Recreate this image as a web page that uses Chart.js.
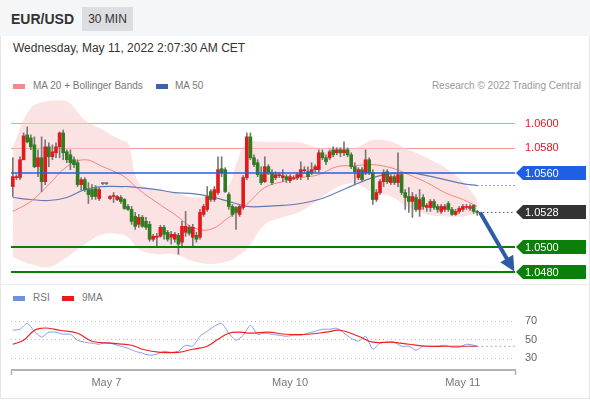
<!DOCTYPE html>
<html><head><meta charset="utf-8">
<script src="https://cdn.jsdelivr.net/npm/chart.js@4/dist/chart.umd.min.js"></script>
<style>
html,body{margin:0;padding:0;background:#fff;}
body{width:590px;height:400px;position:relative;overflow:hidden;font-family:"Liberation Sans",Arial,Helvetica,sans-serif;}
#frame{position:absolute;left:0;top:0;width:588px;height:397px;border:1px solid #e6e6e6;}
#hdr{position:absolute;left:0;top:0;width:590px;height:36px;background:#f5f6f7;}
#sym{position:absolute;left:11px;top:10px;font-size:14px;line-height:18px;font-weight:bold;color:#333;}
#tf{position:absolute;left:82px;top:7px;width:51px;height:24px;background:#dcdee2;font-size:12px;color:#333;line-height:24px;text-align:center;}
#date{position:absolute;left:13px;top:40px;font-size:12px;line-height:16px;color:#333;}
.leg{position:absolute;font-size:10px;line-height:12px;color:#777;white-space:nowrap;}
.sw{position:absolute;width:12px;height:5px;}
#sep{position:absolute;left:0;top:284px;width:590px;height:1px;background:#ececec;}
canvas{position:absolute;left:0;}
</style></head>
<body>
<div id="frame"></div>
<div id="hdr"></div>
<div id="sym">EUR/USD</div>
<div id="tf">30 MIN</div>
<div id="date">Wednesday, May 11, 2022 2:07:30 AM CET</div>
<div class="sw" style="left:13px;top:84px;background:#f58a8a"></div>
<div class="leg" style="left:33px;top:80px">MA 20 + Bollinger Bands</div>
<div class="sw" style="left:156px;top:84px;background:#3f62a8"></div>
<div class="leg" style="left:175px;top:80px">MA 50</div>
<div class="leg" style="right:9px;top:80px;color:#999">Research © 2022 Trading Central</div>
<div id="sep"></div>
<div class="sw" style="left:13px;top:296px;background:#6d8fe6"></div>
<div class="leg" style="left:33px;top:292px">RSI</div>
<div class="sw" style="left:62px;top:296px;background:#f01818"></div>
<div class="leg" style="left:82px;top:292px">9MA</div>
<canvas id="price" width="590" height="180" style="top:100px"></canvas>
<canvas id="rsi" width="590" height="95" style="top:305px"></canvas>
<script>
// ---------- DATA ----------
const open = [1.05488,1.05560,1.05560,1.05704,1.05904,1.05880,1.05824,1.05648,1.05720,1.05528,
1.05808,1.05728,1.05760,1.05808,1.05920,1.05768,1.05744,1.05704,1.05680,1.05504,
1.05544,1.05464,1.05464,1.05472,1.05392,1.05512,1.05512,1.05392,1.05408,1.05384,
1.05400,1.05384,1.05328,1.05304,1.05248,1.05184,1.05240,1.05208,1.05184,1.05064,
1.05080,1.05088,1.05160,1.05120,1.05080,1.05064,1.05096,1.05040,1.05120,1.05160,
1.05080,1.05096,1.05080,1.05264,1.05304,1.05448,1.05384,1.05440,1.05632,1.05624,
1.05424,1.05328,1.05320,1.05264,1.05320,1.05560,1.05888,1.05720,1.05680,1.05584,
1.05528,1.05648,1.05600,1.05560,1.05576,1.05560,1.05568,1.05536,1.05552,1.05560,
1.05568,1.05616,1.05608,1.05600,1.05624,1.05624,1.05760,1.05720,1.05720,1.05784,
1.05760,1.05784,1.05760,1.05784,1.05744,1.05648,1.05560,1.05624,1.05600,1.05704,
1.05600,1.05384,1.05440,1.05528,1.05608,1.05520,1.05568,1.05520,1.05584,1.05440,
1.05408,1.05368,1.05400,1.05304,1.05400,1.05320,1.05320,1.05368,1.05328,1.05288,
1.05304,1.05352,1.05304,1.05264,1.05288,1.05304,1.05320,1.05312,1.05336,1.05288];
const high = [1.05720,1.05584,1.05728,1.05920,1.05968,1.05904,1.05888,1.05784,1.05888,1.05864,
1.05840,1.05824,1.05840,1.05928,1.05944,1.05784,1.05784,1.05728,1.05704,1.05560,
1.05560,1.05520,1.05504,1.05496,1.05480,1.05520,1.05520,1.05416,1.05440,1.05416,
1.05416,1.05392,1.05344,1.05328,1.05280,1.05264,1.05256,1.05240,1.05208,1.05104,
1.05112,1.05176,1.05176,1.05136,1.05128,1.05120,1.05112,1.05208,1.05288,1.05176,
1.05184,1.05120,1.05304,1.05344,1.05488,1.05464,1.05488,1.05728,1.05728,1.05640,
1.05440,1.05344,1.05328,1.05344,1.05576,1.05920,1.05920,1.05744,1.05704,1.05648,
1.05728,1.05664,1.05624,1.05608,1.05600,1.05624,1.05584,1.05584,1.05576,1.05600,
1.05688,1.05648,1.05648,1.05680,1.05664,1.05784,1.05784,1.05744,1.05784,1.05808,
1.05800,1.05800,1.05848,1.05800,1.05760,1.05680,1.05640,1.05640,1.05784,1.05720,
1.05624,1.05464,1.05544,1.05624,1.05624,1.05584,1.05584,1.05760,1.05600,1.05464,
1.05480,1.05440,1.05424,1.05464,1.05424,1.05352,1.05384,1.05384,1.05344,1.05344,
1.05344,1.05368,1.05320,1.05304,1.05328,1.05344,1.05344,1.05344,1.05344,1.05296];
const low = [1.05408,1.05544,1.05544,1.05704,1.05840,1.05784,1.05640,1.05568,1.05448,1.05504,
1.05648,1.05704,1.05720,1.05720,1.05704,1.05680,1.05624,1.05640,1.05488,1.05464,
1.05448,1.05352,1.05384,1.05384,1.05376,1.05504,1.05504,1.05384,1.05360,1.05376,
1.05352,1.05304,1.05296,1.05184,1.05144,1.05160,1.05160,1.05144,1.05048,1.05048,
1.05008,1.05080,1.05064,1.05048,1.05024,1.05040,1.04944,1.05008,1.05088,1.05096,
1.05008,1.05040,1.05064,1.05248,1.05288,1.05368,1.05368,1.05424,1.05568,1.05440,
1.05304,1.05248,1.05144,1.05248,1.05304,1.05544,1.05704,1.05648,1.05568,1.05504,
1.05520,1.05584,1.05504,1.05544,1.05560,1.05528,1.05520,1.05520,1.05544,1.05544,
1.05544,1.05600,1.05544,1.05584,1.05608,1.05608,1.05704,1.05664,1.05704,1.05728,
1.05744,1.05728,1.05736,1.05728,1.05632,1.05504,1.05544,1.05528,1.05584,1.05584,
1.05344,1.05368,1.05424,1.05488,1.05512,1.05504,1.05504,1.05488,1.05424,1.05304,
1.05280,1.05240,1.05288,1.05248,1.05304,1.05288,1.05288,1.05304,1.05280,1.05272,
1.05288,1.05288,1.05256,1.05256,1.05272,1.05288,1.05304,1.05296,1.05272,1.05256];
const close = [1.05568,1.05568,1.05704,1.05896,1.05848,1.05808,1.05648,1.05720,1.05528,1.05808,
1.05728,1.05768,1.05808,1.05920,1.05760,1.05704,1.05680,1.05664,1.05504,1.05544,
1.05464,1.05424,1.05408,1.05408,1.05464,1.05512,1.05512,1.05408,1.05416,1.05408,
1.05368,1.05312,1.05304,1.05208,1.05168,1.05240,1.05168,1.05160,1.05064,1.05088,
1.05084,1.05160,1.05104,1.05064,1.05104,1.05104,1.05024,1.05168,1.05168,1.05112,
1.05160,1.05064,1.05280,1.05328,1.05408,1.05384,1.05464,1.05624,1.05600,1.05448,
1.05328,1.05264,1.05280,1.05328,1.05560,1.05888,1.05720,1.05664,1.05584,1.05520,
1.05648,1.05600,1.05520,1.05584,1.05584,1.05576,1.05544,1.05568,1.05560,1.05584,
1.05624,1.05624,1.05568,1.05624,1.05648,1.05760,1.05720,1.05688,1.05768,1.05744,
1.05784,1.05760,1.05784,1.05744,1.05648,1.05608,1.05624,1.05544,1.05704,1.05600,
1.05384,1.05440,1.05528,1.05600,1.05528,1.05568,1.05520,1.05584,1.05440,1.05400,
1.05368,1.05408,1.05304,1.05384,1.05328,1.05336,1.05368,1.05320,1.05304,1.05328,
1.05328,1.05304,1.05264,1.05288,1.05312,1.05328,1.05326,1.05328,1.05288,1.05280];

// Bollinger band, MA20 and MA50, read at these candle positions
const bandIdx = [0,5,10,15,20,25,30,32,35,40,45,50,55,60,62,65,70,75,80,85,90,95,100,105,110,115,120,125,129];
const bbUpper = [1.05808,1.06120,1.06176,1.06176,1.06024,1.05944,1.05864,1.05840,1.05520,1.05464,1.05440,1.05400,1.05424,1.05504,1.05664,1.05840,1.05848,1.05848,1.05840,1.05800,1.05808,1.05800,1.05864,1.05848,1.05784,1.05720,1.05640,1.05528,1.05384];
const bbLower = [1.04920,1.04864,1.04840,1.04920,1.05024,1.05104,1.05104,1.05080,1.04984,1.04944,1.04944,1.04888,1.04864,1.04888,1.04920,1.04984,1.05184,1.05240,1.05288,1.05384,1.05480,1.05512,1.05440,1.05408,1.05320,1.05264,1.05248,1.05248,1.05272];
const ma20 = [1.05288,1.05368,1.05504,1.05648,1.05704,1.05648,1.05584,1.05544,1.05464,1.05360,1.05264,1.05160,1.05144,1.05240,1.05280,1.05344,1.05480,1.05528,1.05560,1.05584,1.05648,1.05656,1.05664,1.05640,1.05584,1.05520,1.05440,1.05384,1.05328];
const ma50 = [1.05400,1.05384,1.05376,1.05400,1.05464,1.05488,1.05488,1.05488,1.05480,1.05464,1.05440,1.05432,1.05408,1.05368,1.05352,1.05328,1.05328,1.05336,1.05352,1.05384,1.05440,1.05504,1.05560,1.05592,1.05600,1.05576,1.05544,1.05512,1.05496];

// price levels on the right
const resistances = [1.0600, 1.0580];
const pivot = 1.0560;
const lastPrice = 1.0528;
const supports = [1.0500, 1.0480];

// RSI panel
const rsiIdx = [0,2,4,6,8,10,12,14,16,18,20,22,24,26,28,30,32,34,36,38,40,42,44,46,48,50,52,54,56,58,60,62,64,66,68,70,72,74,76,78,80,82,84,86,88,90,92,94,96,98,100,102,104,106,108,110,112,114,116,118,120,122,124,126,128,129];
const rsi = [59.7,60.8,67.3,58.6,52.2,57.6,57.6,55.4,55.4,48.9,46.8,45.7,44.6,46.8,44.6,42.4,40.3,37.0,34.9,32.7,33.8,37.0,35.9,37.0,43.5,42.4,53.2,58.6,64.1,67.3,56.5,48.9,54.3,65.1,55.4,56.5,55.4,54.3,53.2,54.3,54.3,56.5,58.6,60.8,60.8,61.9,56.5,51.1,47.8,53.2,39.2,45.7,46.8,46.8,42.4,42.4,38.1,42.4,42.4,42.4,43.5,41.4,41.4,44.6,43.5,42.4];
const rsiMaIdx = [0,3,6,8,10,13,18,22,27,33,36,41,46,50,54,57,60,63,66,71,76,82,87,91,96,100,105,110,115,120,125,129];
const rsiMa = [44.6,48.9,59.7,61.9,61.9,59.7,56.5,47.8,45.7,43.5,39.2,35.9,35.9,39.2,42.4,50.0,56.5,57.6,56.5,57.6,55.4,55.4,57.6,59.7,53.2,46.8,46.8,44.6,42.4,42.4,42.4,42.4];
const rsiLevels = [70, 50, 30];

const xTickIdx = [26, 77, 125];
const xTickLabels = ['May 7', 'May 10', 'May 11'];

// ---------- CHARTS ----------
const X_MIN = -0.5, X_MAX = 139.5, X_EXT_END = 139.5;
const UP = '#e3191c', DOWN = '#2f7d1f', FLAT = '#777';
const FONT = '"Liberation Sans", Arial, sans-serif';
const idx = open.map((_, i) => i);
const last = idx.length - 1;
const pts = (xs, ys) => xs.map((x, k) => ({x, y: ys[k]}));

function tag(ctx, right, y, bg, text) {
  const x0 = right + 1;
  ctx.fillStyle = bg;
  ctx.beginPath();
  ctx.moveTo(x0, y);
  ctx.lineTo(x0 + 7, y - 7);
  ctx.lineTo(586, y - 7);
  ctx.lineTo(586, y + 7);
  ctx.lineTo(x0 + 7, y + 7);
  ctx.closePath();
  ctx.fill();
  ctx.fillStyle = '#fff';
  ctx.font = '11px ' + FONT;
  ctx.textBaseline = 'middle';
  ctx.textAlign = 'left';
  ctx.fillText(text, 525, y + 0.5);
}

const pricePlugin = {
  id: 'pricePlugin',
  beforeDatasetsDraw(chart) {
    const {ctx, chartArea: a, scales: {y}} = chart;
    ctx.save();
    ctx.strokeStyle = '#f49a9a';
    ctx.lineWidth = 1;
    resistances.forEach(v => {
      const py = Math.round(y.getPixelForValue(v)) + 0.5;
      ctx.beginPath(); ctx.moveTo(a.left, py); ctx.lineTo(a.right, py); ctx.stroke();
    });
    ctx.restore();
  },
  afterDatasetsDraw(chart) {
    const {ctx, chartArea: a, scales: {x, y}} = chart;
    ctx.save();
    const py = Math.round(y.getPixelForValue(pivot));
    ctx.strokeStyle = '#2160ea'; ctx.lineWidth = 1.6;
    ctx.beginPath(); ctx.moveTo(a.left, py); ctx.lineTo(a.right, py); ctx.stroke();
    ctx.strokeStyle = '#0b7d0b'; ctx.lineWidth = 2;
    supports.forEach(v => {
      const p = Math.round(y.getPixelForValue(v));
      ctx.beginPath(); ctx.moveTo(a.left, p); ctx.lineTo(a.right, p); ctx.stroke();
    });
    const x0 = x.getPixelForValue(129.8), y0 = y.getPixelForValue(lastPrice);
    const x1 = x.getPixelForValue(139.3), y1 = y.getPixelForValue(supports[1]) - 0.5;
    const dx = x1 - x0, dy = y1 - y0, L = Math.hypot(dx, dy), ux = dx / L, uy = dy / L;
    ctx.strokeStyle = '#2e5ca4'; ctx.fillStyle = '#2e5ca4'; ctx.lineWidth = 4;
    ctx.beginPath(); ctx.moveTo(x0, y0); ctx.lineTo(x1 - 11 * ux, y1 - 11 * uy); ctx.stroke();
    const bx = x1 - 15 * ux, by = y1 - 15 * uy;
    ctx.beginPath(); ctx.moveTo(x1, y1);
    ctx.lineTo(bx - 7.5 * uy, by + 7.5 * ux);
    ctx.lineTo(bx + 7.5 * uy, by - 7.5 * ux);
    ctx.closePath(); ctx.fill();
    ctx.restore();
  },
  afterDraw(chart) {
    const {ctx, chartArea: a, scales: {y}} = chart;
    ctx.save();
    ctx.font = '11px ' + FONT;
    ctx.textBaseline = 'middle';
    ctx.fillStyle = '#e8141c';
    resistances.forEach(v => ctx.fillText(v.toFixed(4), 525, y.getPixelForValue(v) + 0.5));
    tag(ctx, a.right, Math.round(y.getPixelForValue(pivot)), '#1f5fe6', pivot.toFixed(4));
    tag(ctx, a.right, Math.round(y.getPixelForValue(lastPrice)), '#333333', lastPrice.toFixed(4));
    supports.forEach(v => tag(ctx, a.right, Math.round(y.getPixelForValue(v)), '#0a800a', v.toFixed(4)));
    ctx.restore();
  }
};

new Chart(document.getElementById('price'), {
  type: 'bar',
  data: {
    datasets: [
      {type: 'line', data: pts(bandIdx, bbUpper), borderWidth: 0, borderColor: 'rgba(0,0,0,0)', pointRadius: 0, tension: 0.4, fill: '+1', backgroundColor: 'rgba(250,200,200,0.5)', order: 10},
      {type: 'line', data: pts(bandIdx, bbLower), borderWidth: 0, borderColor: 'rgba(0,0,0,0)', pointRadius: 0, tension: 0.4, fill: false, order: 11},
      {type: 'line', data: pts(bandIdx, ma20), borderColor: 'rgba(245,115,115,0.85)', borderWidth: 1, pointRadius: 0, tension: 0.4, fill: false, order: 5},
      {type: 'line', data: pts(bandIdx, ma50), borderColor: 'rgba(70,105,175,0.85)', borderWidth: 1.2, pointRadius: 0, tension: 0.4, fill: false, order: 5},
      {type: 'bar', data: idx.map(i => ({x: i, y: [low[i], high[i]]})), backgroundColor: '#777', barThickness: 1, grouped: false, order: 3},
      {type: 'bar', data: idx.map(i => ({x: i, y: [open[i], close[i]]})), backgroundColor: idx.map(i => close[i] > open[i] ? UP : (close[i] < open[i] ? DOWN : FLAT)), barThickness: 3, minBarLength: 1, grouped: false, order: 2},
      {type: 'line', data: [{x: last + 0.5, y: close[last]}, {x: X_EXT_END, y: close[last]}], borderColor: '#555', borderWidth: 1, borderDash: [1.5, 2.5], pointRadius: 0, fill: false, order: 1},
      {type: 'line', data: [{x: last, y: ma50[ma50.length - 1]}, {x: X_EXT_END, y: ma50[ma50.length - 1]}], borderColor: '#5a7fc8', borderWidth: 1, borderDash: [1.5, 2.5], pointRadius: 0, fill: false, order: 1}
    ]
  },
  options: {
    responsive: false, animation: false, events: [],
    layout: {padding: {left: 11, right: 75, top: 0, bottom: 0}},
    plugins: {legend: {display: false}, tooltip: {enabled: false}},
    scales: {
      x: {type: 'linear', offset: false, min: X_MIN, max: X_MAX, display: false},
      y: {type: 'linear', min: 1.04736, max: 1.06185, display: false}
    }
  },
  plugins: [pricePlugin]
});

const rsiPlugin = {
  id: 'rsiPlugin',
  beforeDatasetsDraw(chart) {
    const {ctx, chartArea: a, scales: {y}} = chart;
    ctx.save();
    ctx.strokeStyle = '#bdbdbd'; ctx.lineWidth = 1; ctx.setLineDash([1, 3]);
    rsiLevels.forEach(v => {
      const py = Math.round(y.getPixelForValue(v)) + 0.5;
      ctx.beginPath(); ctx.moveTo(a.left, py); ctx.lineTo(a.right, py); ctx.stroke();
    });
    ctx.setLineDash([]);
    ctx.fillStyle = '#666'; ctx.font = '11px ' + FONT; ctx.textBaseline = 'middle';
    rsiLevels.forEach(v => ctx.fillText(String(v), 525, y.getPixelForValue(v) + 0.5));
    ctx.restore();
  },
  afterDraw(chart) {
    const {ctx, chartArea: a, scales: {x}} = chart;
    ctx.save();
    const ay = a.bottom + 3;
    ctx.strokeStyle = '#b3b3b3'; ctx.lineWidth = 2;
    ctx.beginPath(); ctx.moveTo(a.left, ay); ctx.lineTo(a.right + 1, ay); ctx.stroke();
    ctx.lineWidth = 1.5;
    [a.left + 0.5, a.right + 0.5].forEach(px => {
      ctx.beginPath(); ctx.moveTo(px, ay); ctx.lineTo(px, ay + 5); ctx.stroke();
    });
    ctx.fillStyle = '#777'; ctx.font = '11px ' + FONT; ctx.textAlign = 'center'; ctx.textBaseline = 'middle';
    xTickIdx.forEach((v, k) => ctx.fillText(xTickLabels[k], x.getPixelForValue(v), ay + 12.5));
    ctx.restore();
  }
};

new Chart(document.getElementById('rsi'), {
  type: 'line',
  data: {
    datasets: [
      {data: pts(rsiIdx, rsi), borderColor: '#7f9ded', borderWidth: 1, pointRadius: 0, tension: 0.2, fill: false, order: 2},
      {data: pts(rsiMaIdx, rsiMa), borderColor: '#f02020', borderWidth: 1.2, pointRadius: 0, tension: 0.4, fill: false, order: 1},
      {data: [{x: last, y: rsi[rsi.length - 1]}, {x: X_EXT_END, y: rsi[rsi.length - 1]}], borderColor: '#7f9ded', borderWidth: 1, borderDash: [1.5, 3], pointRadius: 0, fill: false, order: 3}
    ]
  },
  options: {
    responsive: false, animation: false, events: [],
    layout: {padding: {left: 11, right: 75, top: 0, bottom: 33}},
    plugins: {legend: {display: false}, tooltip: {enabled: false}},
    scales: {
      x: {type: 'linear', min: X_MIN, max: X_MAX, display: false},
      y: {type: 'linear', min: 20, max: 87, display: false}
    }
  },
  plugins: [rsiPlugin]
});
</script>
</body></html>
